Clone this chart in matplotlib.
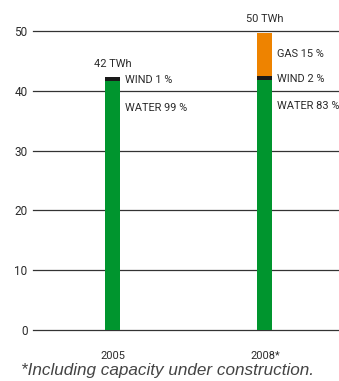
import matplotlib
matplotlib.use("Agg")
import matplotlib.pyplot as plt

years = ["2005", "2008*"]
water = [41.6, 41.8]
wind = [0.7, 0.7]
gas = [0.0, 7.2]
totals = ["42 TWh", "50 TWh"]
water_labels = ["WATER 99 %", "WATER 83 %"]
wind_labels = ["WIND 1 %", "WIND 2 %"]
gas_labels = [None, "GAS 15 %"]
yticks = [0, 10, 20, 30, 40, 50]

plt.rcParams["font.family"] = ["Roboto", "DejaVu Sans"]

txt = "#2b2b2b"
green = "#00952e"
black = "#1a1a1a"
orange = "#ee8300"
fs = 7.9

fig = plt.figure(figsize=(3.39, 3.81), dpi=100)
ax = fig.add_axes([33 / 339, 51 / 381, 306 / 339, 299 / 381])

x = [0, 1]
w = 0.099
ax.bar(x, water, width=w, color=green, zorder=3)
ax.bar(x, wind, width=w, bottom=water, color=black, zorder=3)
ax.bar(x, gas, width=w, bottom=[a + b for a, b in zip(water, wind)], color=orange, zorder=3)

for t in yticks:
    ax.axhline(t, color="#333333", lw=0.9, zorder=1, clip_on=False)

ax.set_xlim(-0.526, 1.487)
ax.set_ylim(0, 50)
ax.set_yticks(yticks)
ax.set_xticks([])
ax.tick_params(axis="y", length=0, pad=4, labelsize=8.5, labelcolor=txt)
for s in ax.spines.values():
    s.set_visible(False)

lx = 0.079
for i in x:
    top = water[i] + wind[i] + gas[i]
    ax.text(i, top + 1.4, totals[i], ha="center", va="bottom", fontsize=fs, color=txt, clip_on=False)
    ax.text(i + lx, water[i] - 4.4, water_labels[i], ha="left", va="center", fontsize=fs, color=txt)
    ax.text(i + lx, water[i] + wind[i] / 2 - 0.2, wind_labels[i], ha="left", va="center",
            fontsize=fs, color=txt)
    if gas_labels[i]:
        ax.text(i + lx, water[i] + wind[i] + gas[i] / 2, gas_labels[i], ha="left", va="center",
                fontsize=fs, color=txt)
    ax.text(i, -4.3, years[i], ha="center", va="center", fontsize=fs, color=txt, clip_on=False)

fig.text(0.495, 10 / 381, "*Including capacity under construction.", ha="center", va="center",
         fontsize=12.3, style="italic", color="#444444", family=["Liberation Sans", "DejaVu Sans"])

fig.savefig("out.png", dpi=100)
